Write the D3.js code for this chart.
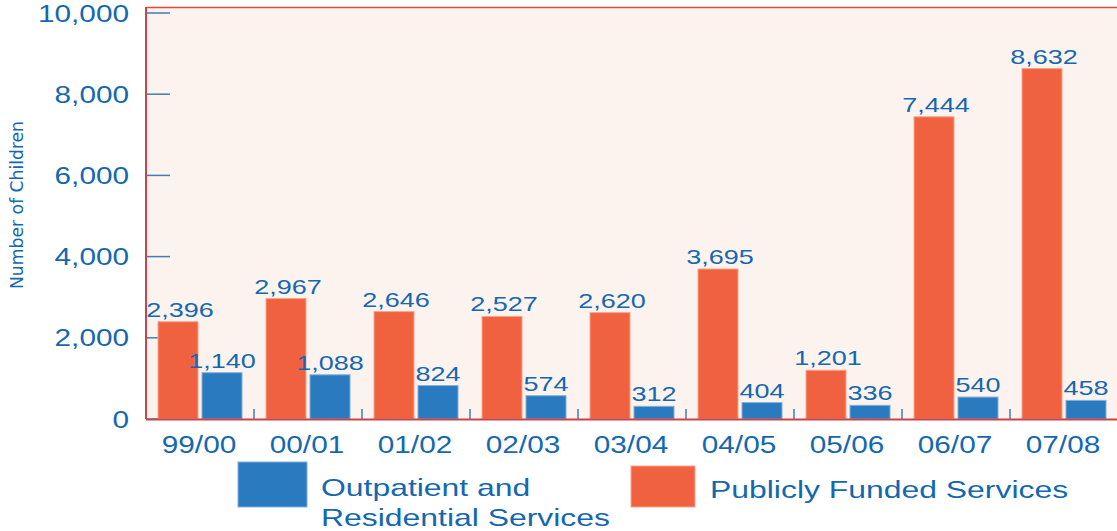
<!DOCTYPE html>
<html>
<head>
<meta charset="utf-8">
<script src="https://cdn.jsdelivr.net/npm/d3@7"></script>
<style>
  body { margin: 0; background: #fff; }
  svg { display: block; font-family: "Liberation Sans", Arial, sans-serif; }
</style>
</head>
<body>
<svg id="chart" width="1117" height="531"></svg>
<script>
const years = ["99/00", "00/01", "01/02", "02/03", "03/04", "04/05", "05/06", "06/07", "07/08"];
const publicly = [2396, 2967, 2646, 2527, 2620, 3695, 1201, 7444, 8632];
const outpatient = [1140, 1088, 824, 574, 312, 404, 336, 540, 458];
const yTicks = [0, 2000, 4000, 6000, 8000, 10000];

const orange = "#f0623f";
const blue = "#2a7abf";
const textBlue = "#1468b0";

const svg = d3.select("#chart");
const plotLeft = 146, plotRight = 1118, plotTop = 7, plotBottom = 419;

const x = d3.scaleBand().domain(years).range([plotLeft, plotRight]);
const y = d3.scaleLinear().domain([0, 10000]).range([plotBottom, 13]);
const fmt = d3.format(",");

// the original lettering is a wide face, so stretch text sideways
const wide = (sel, fx, fy, sx) =>
  sel.attr("transform", (d, i) => `translate(${fx(d, i)},${fy(d, i)}) scale(${sx},1)`);

// plot background
svg.append("rect")
  .attr("x", plotLeft).attr("y", plotTop)
  .attr("width", plotRight - plotLeft).attr("height", plotBottom - plotTop)
  .attr("fill", "#fcf3ee");

svg.append("line")
  .attr("x1", plotLeft).attr("x2", plotRight).attr("y1", plotTop + 0.5).attr("y2", plotTop + 0.5)
  .attr("stroke", "#e8463c").attr("stroke-width", 1.5);

// y ticks inside the plot
svg.append("g").selectAll("line")
  .data(yTicks)
  .join("line")
  .attr("x1", plotLeft).attr("x2", plotLeft + 24)
  .attr("y1", d => y(d)).attr("y2", d => y(d))
  .attr("stroke", "#3b7fb8").attr("stroke-width", 1.5);

svg.append("g")
  .attr("text-anchor", "end")
  .attr("font-size", 24)
  .attr("fill", textBlue)
  .selectAll("text")
  .data(yTicks)
  .join("text")
  .call(wide, () => 129, d => y(d), 1.24)
  .attr("dy", "0.36em")
  .text(d => fmt(d));

svg.append("text")
  .attr("transform", `translate(23,205) rotate(-90)`)
  .attr("text-anchor", "middle")
  .attr("font-size", 17)
  .attr("font-family", "'Liberation Sans Narrow', 'DejaVu Sans Condensed', sans-serif")
  .attr("textLength", 168)
  .attr("lengthAdjust", "spacingAndGlyphs")
  .attr("fill", textBlue)
  .text("Number of Children");

// bars
const bw = 40;
const groups = svg.append("g").selectAll("g")
  .data(years.map((yr, i) => ({ yr, p: publicly[i], o: outpatient[i] })))
  .join("g")
  .attr("transform", d => `translate(${x(d.yr)},0)`);

groups.append("rect")
  .attr("x", 12).attr("width", bw)
  .attr("y", d => y(d.p)).attr("height", d => plotBottom - y(d.p))
  .attr("fill", orange).attr("stroke", "#f7a58c").attr("stroke-width", 1);

groups.append("rect")
  .attr("x", 56).attr("width", bw)
  .attr("y", d => y(d.o)).attr("height", d => plotBottom - y(d.o))
  .attr("fill", blue).attr("stroke", "#7fb0dc").attr("stroke-width", 1);

groups.append("text")
  .call(wide, () => 12 + bw / 2 + 2, d => y(d.p) - 5, 1.35)
  .attr("text-anchor", "middle").attr("font-size", 20).attr("fill", textBlue)
  .text(d => fmt(d.p));

groups.append("text")
  .call(wide, () => 56 + bw / 2, d => y(d.o) - 5, 1.35)
  .attr("text-anchor", "middle").attr("font-size", 20).attr("fill", textBlue)
  .text(d => fmt(d.o));

// separators between categories
groups.append("line")
  .attr("x1", x.bandwidth()).attr("x2", x.bandwidth())
  .attr("y1", plotBottom - 10).attr("y2", plotBottom)
  .attr("stroke", "#3b7fb8").attr("stroke-width", 1.5);

// axes lines
svg.append("line")
  .attr("x1", plotLeft).attr("x2", plotRight).attr("y1", plotBottom + 0.5).attr("y2", plotBottom + 0.5)
  .attr("stroke", "#c9454c").attr("stroke-width", 2);
svg.append("line")
  .attr("x1", plotLeft).attr("x2", plotLeft).attr("y1", plotTop).attr("y2", plotBottom)
  .attr("stroke", "#c9454c").attr("stroke-width", 2);

// x labels
svg.append("g")
  .attr("text-anchor", "middle")
  .attr("font-size", 24)
  .attr("fill", textBlue)
  .selectAll("text")
  .data(years)
  .join("text")
  .call(wide, d => x(d) + 53, () => 453, 1.24)
  .text(d => d);

// legend
const legend = svg.append("g").attr("font-size", 24).attr("fill", textBlue);
legend.append("rect").attr("x", 238).attr("y", 462).attr("width", 69).attr("height", 45)
  .attr("fill", blue).attr("stroke", "#7fb0dc");
legend.append("text").call(wide, () => 321, () => 496, 1.33).text("Outpatient and");
legend.append("text").call(wide, () => 321, () => 526, 1.33).text("Residential Services");

legend.append("rect").attr("x", 631).attr("y", 466).attr("width", 64).attr("height", 41)
  .attr("fill", orange).attr("stroke", "#f7a58c");
legend.append("text").call(wide, () => 710, () => 498, 1.33).text("Publicly Funded Services");
</script>
</body>
</html>
